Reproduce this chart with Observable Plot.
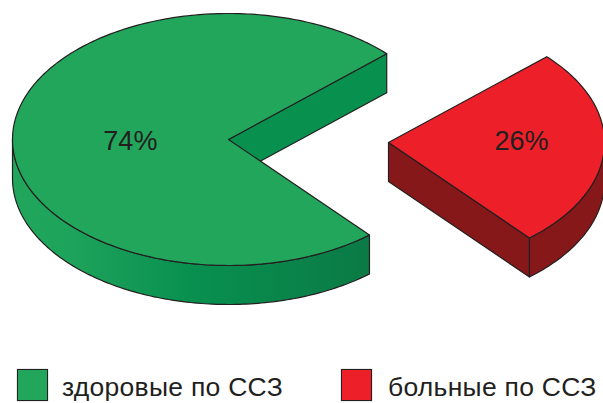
<!DOCTYPE html>
<html lang="ru">
<head>
<meta charset="utf-8">
<script src="https://cdn.jsdelivr.net/npm/d3@7"></script>
<script src="https://cdn.jsdelivr.net/npm/@observablehq/plot@0.6"></script>
<style>
html,body{margin:0;padding:0;background:#fff;overflow:hidden}
#page{position:relative;width:603px;height:403px;font-family:"Liberation Sans",Arial,sans-serif;color:#231f20}
#page svg{display:block;position:absolute;left:0;top:0}
.sw{position:absolute;top:369px;width:29px;height:30px;border:1.5px solid #231f20;box-shadow:0 0 1px #888}
.lb{position:absolute;top:372px;font-size:26.5px;letter-spacing:0.27px;line-height:30px;white-space:nowrap}
</style>
</head>
<body>
<div id="page"></div>
<script>
const categories = ["здоровые по ССЗ", "больные по ССЗ"];
const shares = [74.4, 25.6];
const topColors = ["#21a65c", "#ed2029"];
const wallColors = ["#08904f", "#87181a"];
const greenWallStops = ["#21a65c", "#1ea35b", "#08904f", "#0b7a45"];
const greenWallOffsets = [0, 0.16, 0.5, 1];
const centersX = [228, 388];
const centersY = [139, 142];
const labelRadius = [0.455, 0.617];
const labelY = [141, 141];

const rx = 216, ry = 126, depth = 39, startDeg = 42.9;
const ink = "#231f20";
const rad = d => d * Math.PI / 180;
const gapDeg = shares[1] / 100 * 360;
const endDeg = startDeg - gapDeg;           // red slice runs clockwise from startDeg to endDeg

const pt = (i, deg, r = 1, dy = 0) => ({
  x: centersX[i] + rx * r * Math.cos(rad(deg)),
  y: centersY[i] - ry * r * Math.sin(rad(deg)) + dy
});
const arc = (i, a, b, dy = 0, step = 1) => {
  const n = Math.max(1, Math.round(Math.abs(b - a) / step));
  return d3.range(n + 1).map(k => pt(i, a + (b - a) * k / n, 1, dy));
};

// slice tops
const greenTop = [pt(0, 0, 0), ...arc(0, startDeg, endDeg + 360)];
const redTop = [pt(1, 0, 0), ...arc(1, startDeg, endDeg)];

// outer walls and flat cut faces
const greenWall = [...arc(0, 180, endDeg + 360), ...arc(0, endDeg + 360, 180, depth)];
const redWall = [...arc(1, endDeg, 0), ...arc(1, 0, endDeg, depth)];
const greenCut = [pt(0, 0, 0), pt(0, startDeg), pt(0, startDeg, 1, depth), pt(0, 0, 0, depth)];
const redCut = [pt(1, 0, 0), pt(1, endDeg), pt(1, endDeg, 1, depth), pt(1, 0, 0, depth)];

const labelData = shares.map((s, i) => {
  const mid = i === 0 ? startDeg + (360 - gapDeg) / 2 : startDeg - gapDeg / 2;
  return {text: `${Math.round(s)}%`, x: pt(i, mid, labelRadius[i]).x, y: labelY[i]};
});

const shape = (d, fill) => Plot.line(d, {x: "x", y: "y", curve: "linear-closed", fill, stroke: ink, strokeWidth: 1.2, strokeLinejoin: "round"});

const chart = Plot.plot({
  width: 603, height: 355,
  margin: 0,
  x: {domain: [0, 603], axis: null},
  y: {domain: [355, 0], axis: null},
  marks: [
    shape(greenWall, "url(#greenWall)"),
    shape(greenCut, wallColors[0]),
    shape(greenTop, topColors[0]),
    shape(redCut, wallColors[1]),
    shape(redWall, wallColors[1]),
    shape(redTop, topColors[1]),
    Plot.text(labelData, {x: "x", y: "y", text: "text", fontSize: 27, fill: ink, fontFamily: "Liberation Sans, Arial, sans-serif"})
  ]
});

// left-to-right shade of the green outer wall
const gradient = d3.select(chart).insert("defs", ":first-child")
  .append("linearGradient").attr("id", "greenWall").attr("gradientUnits", "userSpaceOnUse")
  .attr("x1", chart.scale("x").apply(pt(0, 180).x)).attr("x2", chart.scale("x").apply(pt(0, endDeg + 360).x))
  .attr("y1", 0).attr("y2", 0);
greenWallStops.forEach((c, i) => gradient.append("stop").attr("offset", greenWallOffsets[i]).attr("stop-color", c));

const page = document.getElementById("page");
page.append(chart);
const swatchX = [17, 341], labelX = [62, 388];
categories.forEach((c, i) => {
  const s = document.createElement("div");
  s.className = "sw"; s.style.left = swatchX[i] + "px"; s.style.background = topColors[i];
  const t = document.createElement("div");
  t.className = "lb"; t.style.left = labelX[i] + "px"; t.textContent = c;
  page.append(s, t);
});
</script>
</body>
</html>
